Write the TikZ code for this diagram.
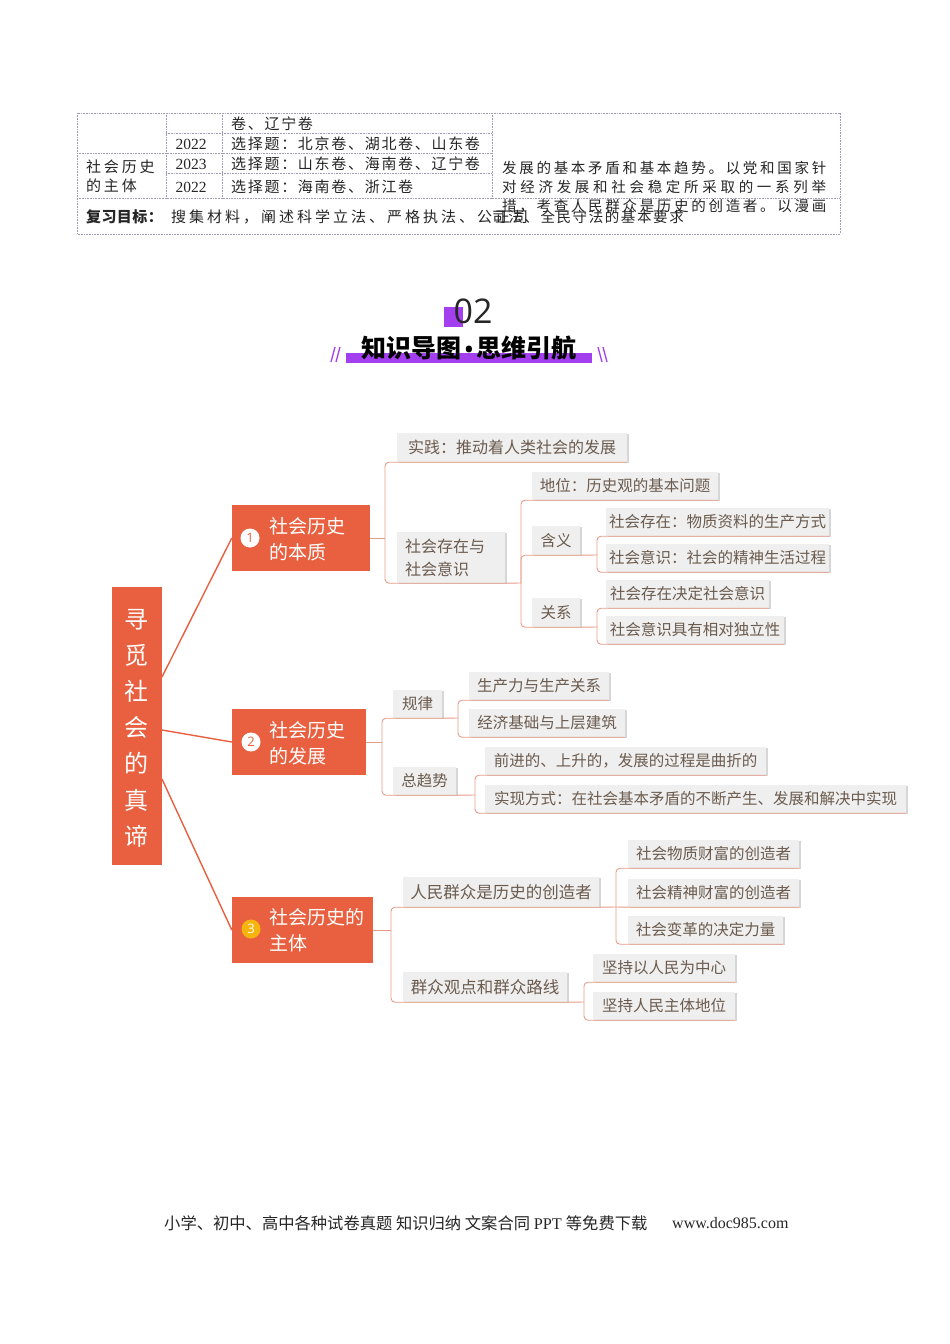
\documentclass[tikz,border=0pt]{standalone}
\usepackage{fontspec}
\setmainfont{Liberation Serif}
\newfontfamily\cjk{Noto Sans CJK SC}
\newfontfamily\numfont{Open Sans}
\usetikzlibrary{shadows}
\definecolor{orng}{HTML}{E8603F}
\definecolor{salmon}{HTML}{E79C87}
\definecolor{gfill}{HTML}{EFEFEF}
\definecolor{gshadow}{HTML}{D6D6D6}
\definecolor{gtext}{HTML}{6B5B4E}
\definecolor{tblc}{HTML}{A39BB5}
\definecolor{purp}{HTML}{A43FF0}
\definecolor{yel}{HTML}{F6B40E}
\newcommand\fsz[1]{\fontsize{#1}{#1}\selectfont}
\ExplSyntaxOn
\NewDocumentCommand\lsp{mm}{\tl_map_inline:nn{#2}{##1\hspace{#1}}}
\ExplSyntaxOff
\tikzset{
  gbox/.style={fill=gfill, inner sep=0pt, text=gtext, font=\cjk\fsz{15.5},
    drop shadow={shadow xshift=1.5pt, shadow yshift=-1pt, fill=gshadow, opacity=1}},
  sub/.style={draw=salmon, line width=0.9pt, rounded corners=4pt},
  mainln/.style={draw=orng, line width=1.4pt},
  bbox/.style={fill=orng, inner sep=0pt},
  btext/.style={text=white, font=\cjk\fontsize{19}{26}\selectfont, align=left, anchor=west, inner sep=0pt},
  numc/.style={circle, inner sep=0pt, minimum size=19, font=\numfont\fsz{13}},
  tline/.style={draw=tblc, line width=0.6pt, dash pattern=on 0.8pt off 0.8pt},
  ttext/.style={anchor=west, inner sep=0pt, text=black!85, font=\cjk\fsz{15}},
}
\begin{document}
\begin{tikzpicture}[x=1pt,y=-1pt]
\fill[white] (0,0) rectangle (950,1344);
\useasboundingbox (0,0) rectangle (950,1344);

% ---------- table ----------
\draw[tline] (77,113) rectangle (840,234);
\draw[tline] (166,133) -- (492,133);
\draw[tline] (77,153) -- (492,153);
\draw[tline] (166,173) -- (492,173);
\draw[tline] (77,198) -- (840,198);
\draw[tline] (166,113) -- (166,198);
\draw[tline] (222,113) -- (222,198);
\draw[tline] (492,113) -- (492,198);

\node[ttext] (r0) at (231,124) {\lsp{1.7pt}{卷、辽宁卷}};
\node[ttext] (r1) at (231,144) {\lsp{1.7pt}{选择题：北京卷、湖北卷、山东卷}};
\node[ttext] (r2) at (231,164) {\lsp{1.7pt}{选择题：山东卷、海南卷、辽宁卷}};
\node[ttext] (r3) at (231,187) {\lsp{1.7pt}{选择题：海南卷、浙江卷}};
\node[font=\fsz{15.5}, text=black!85, inner sep=0pt] (y1) at (191,144) {2022};
\node[font=\fsz{15.5}, text=black!85, inner sep=0pt] (y2) at (191,164) {2023};
\node[font=\fsz{15.5}, text=black!85, inner sep=0pt] (y3) at (191,187) {2022};
\node[ttext] (k1) at (86,167) {\lsp{2.8pt}{社会历史}};
\node[ttext] (k2) at (86,186) {\lsp{2.8pt}{的主体}};
\node[ttext, font=\cjk\fsz{14.5}] (d1) at (502,168) {\lsp{2.7pt}{发展的基本矛盾和基本趋势。以党和国家针}};
\node[ttext, font=\cjk\fsz{14.5}] (d2) at (502,187) {\lsp{3.7pt}{对经济发展和社会稳定所采取的一系列举}};
\node[ttext, font=\cjk\fsz{14.5}] (d3) at (502,206) {\lsp{2.7pt}{措，考查人民群众是历史的创造者。以漫画}};
\node[ttext, font=\cjk\bfseries\fsz{15}] (g0) at (86,217) {\lsp{0.4pt}{复习目标：}};
\node[ttext] (g1) at (171,217) {\lsp{3pt}{搜集材料，阐述科学立法、严格执法、公正司}};
\node[ttext, font=\cjk\fsz{14.5}] (g2) at (492,217) {\lsp{1.6pt}{司法、全民守法的基本要求}};

% ---------- heading ----------
\fill[purp] (444,307) rectangle (463,327);
\node[font=\numfont\fsz{34}, text=black!85, inner sep=0pt] (h02) at (473,311) {02};
\fill[purp] (346,353) rectangle (592,363);
\node[font=\cjk\bfseries\fsz{25}, text=black, inner sep=0pt] (htitle) at (469,348) {知识导图{\numfont\bfseries\fsz{22}\,\textbullet\,}思维引航};
\draw[purp, line width=1.3pt] (331,362) -- (335,347) (336,362) -- (340,347);
\draw[purp, line width=1.3pt] (598,347) -- (602,362) (603,347) -- (607,362);

% ---------- mind map main boxes ----------
\node[bbox, minimum width=50, minimum height=278] (root) at (137,726) {};
\node[text=white, font=\cjk\fontsize{24}{36.2}\selectfont, align=center, inner sep=0pt] (roott) at (136,728) {寻\\觅\\社\\会\\的\\真\\谛};

\node[bbox, minimum width=138, minimum height=66] (n1) at (301,538) {};
\node[bbox, minimum width=134, minimum height=66] (n2) at (299,742) {};
\node[bbox, minimum width=141, minimum height=66] (n3) at (302.5,930) {};
\node[numc, fill=white, text=orng] (c1n) at (250,538) {1};
\node[numc, fill=white, text=orng] (c2n) at (251,742) {2};
\node[numc, fill=yel, text=white] (c3n) at (251,929) {3};
\node[btext] (n1t) at (269,539) {社会历史\\的本质};
\node[btext] (n2t) at (269,743) {社会历史\\的发展};
\node[btext] (n3t) at (269,930) {社会历史的\\主体};

\coordinate (r1) at (162,677);
\coordinate (r2) at (162,730);
\coordinate (r3) at (162,779);
\draw[mainln] (r1) -- (n1.west);
\draw[mainln] (r2) -- (n2.west);
\draw[mainln] (r3) -- (n3.west);

% ---------- branch 1 ----------
\node[gbox, minimum width=230, minimum height=29, font=\cjk\fsz{16}] (a1) at (512,447.5) {实践：推动着人类社会的发展};
\node[gbox, minimum width=108, minimum height=51, text width=92, align=left, font=\cjk\fontsize{16}{23}\selectfont] (a2) at (451,557.5) {社会存在与\\社会意识};
\node[gbox, minimum width=186, minimum height=28] (a3) at (625,486) {地位：历史观的基本问题};
\node[gbox, minimum width=48, minimum height=29] (a4) at (556,540.5) {含义};
\node[gbox, minimum width=48, minimum height=29] (a5) at (556,612.5) {关系};
\node[gbox, minimum width=223, minimum height=28] (a6) at (717.5,522) {社会存在：物质资料的生产方式};
\node[gbox, minimum width=223, minimum height=28] (a7) at (717.5,558) {社会意识：社会的精神生活过程};
\node[gbox, minimum width=163, minimum height=28] (a8) at (687.5,594) {社会存在决定社会意识};
\node[gbox, minimum width=178, minimum height=28] (a9) at (695,630) {社会意识具有相对独立性};

\coordinate (t1) at (385,538);
\coordinate (t2) at (521,583);
\coordinate (t3) at (597,555);
\coordinate (t4) at (597,627);
\draw[sub] (n1.east) -- (t1);
\draw[sub] (t1) |- (a1.south west) -- (a1.south east);
\draw[sub] (t1) |- (a2.south west) -- (a2.south east);
\draw[sub] (a2.south east) -- (t2);
\draw[sub] (t2) |- (a3.south west) -- (a3.south east);
\draw[sub] (t2) |- (a4.south west) -- (a4.south east);
\draw[sub] (t2) |- (a5.south west) -- (a5.south east);
\draw[sub] (a4.south east) -- (t3);
\draw[sub] (t3) |- (a6.south west) -- (a6.south east);
\draw[sub] (t3) |- (a7.south west) -- (a7.south east);
\draw[sub] (a5.south east) -- (t4);
\draw[sub] (t4) |- (a8.south west) -- (a8.south east);
\draw[sub] (t4) |- (a9.south west) -- (a9.south east);

% ---------- branch 2 ----------
\node[gbox, minimum width=49, minimum height=28] (b1) at (417.5,704) {规律};
\node[gbox, minimum width=63, minimum height=28] (b2) at (424.5,781) {总趋势};
\node[gbox, minimum width=140, minimum height=28] (b3) at (539,686) {生产力与生产关系};
\node[gbox, minimum width=156, minimum height=28] (b4) at (547,723) {经济基础与上层建筑};
\node[gbox, minimum width=281, minimum height=28] (b5) at (625.5,761) {前进的、上升的，发展的过程是曲折的};
\node[gbox, minimum width=421, minimum height=28] (b6) at (695.5,799) {实现方式：在社会基本矛盾的不断产生、发展和解决中实现};

\coordinate (t5) at (382,742);
\coordinate (t6) at (458,718);
\coordinate (t7) at (475,795);
\draw[sub] (n2.east) -- (t5);
\draw[sub] (t5) |- (b1.south west) -- (b1.south east);
\draw[sub] (t5) |- (b2.south west) -- (b2.south east);
\draw[sub] (b1.south east) -- (t6);
\draw[sub] (t6) |- (b3.south west) -- (b3.south east);
\draw[sub] (t6) |- (b4.south west) -- (b4.south east);
\draw[sub] (b2.south east) -- (t7);
\draw[sub] (t7) |- (b5.south west) -- (b5.south east);
\draw[sub] (t7) |- (b6.south west) -- (b6.south east);

% ---------- branch 3 ----------
\node[gbox, minimum width=196, minimum height=30, font=\cjk\fsz{16.5}] (cc1) at (501,892) {人民群众是历史的创造者};
\node[gbox, minimum width=164, minimum height=30, font=\cjk\fsz{16.5}] (cc2) at (485,987) {群众观点和群众路线};
\node[gbox, minimum width=171, minimum height=28] (cc3) at (713.5,854) {社会物质财富的创造者};
\node[gbox, minimum width=171, minimum height=28] (cc4) at (713.5,893) {社会精神财富的创造者};
\node[gbox, minimum width=155, minimum height=28] (cc5) at (705.5,930) {社会变革的决定力量};
\node[gbox, minimum width=142, minimum height=28] (cc6) at (664,968) {坚持以人民为中心};
\node[gbox, minimum width=142, minimum height=28] (cc7) at (664,1006) {坚持人民主体地位};

\coordinate (t8) at (391,930);
\coordinate (t9) at (616,907);
\coordinate (t10) at (584,1002);
\draw[sub] (n3.east) -- (t8);
\draw[sub] (t8) |- (cc1.south west) -- (cc1.south east);
\draw[sub] (t8) |- (cc2.south west) -- (cc2.south east);
\draw[sub] (cc1.south east) -- (t9);
\draw[sub] (t9) |- (cc3.south west) -- (cc3.south east);
\draw[sub] (t9) -- (cc4.south west) -- (cc4.south east);
\draw[sub] (t9) |- (cc5.south west) -- (cc5.south east);
\draw[sub] (cc2.south east) -- (t10);
\draw[sub] (t10) |- (cc6.south west) -- (cc6.south east);
\draw[sub] (t10) |- (cc7.south west) -- (cc7.south east);

% ---------- footer ----------
\node[anchor=west, inner sep=0pt, font=\fsz{16.3}, text=black!85] (foot1) at (164,1223) {{\cjk 小学、初中、高中各种试卷真题\ 知识归纳\ 文案合同\ }PPT\ {\cjk 等免费下载}};
\node[anchor=west, inner sep=0pt, font=\fsz{16}, text=black!85] (foot2) at (672,1223) {www.doc985.com};
\end{tikzpicture}
\end{document}
